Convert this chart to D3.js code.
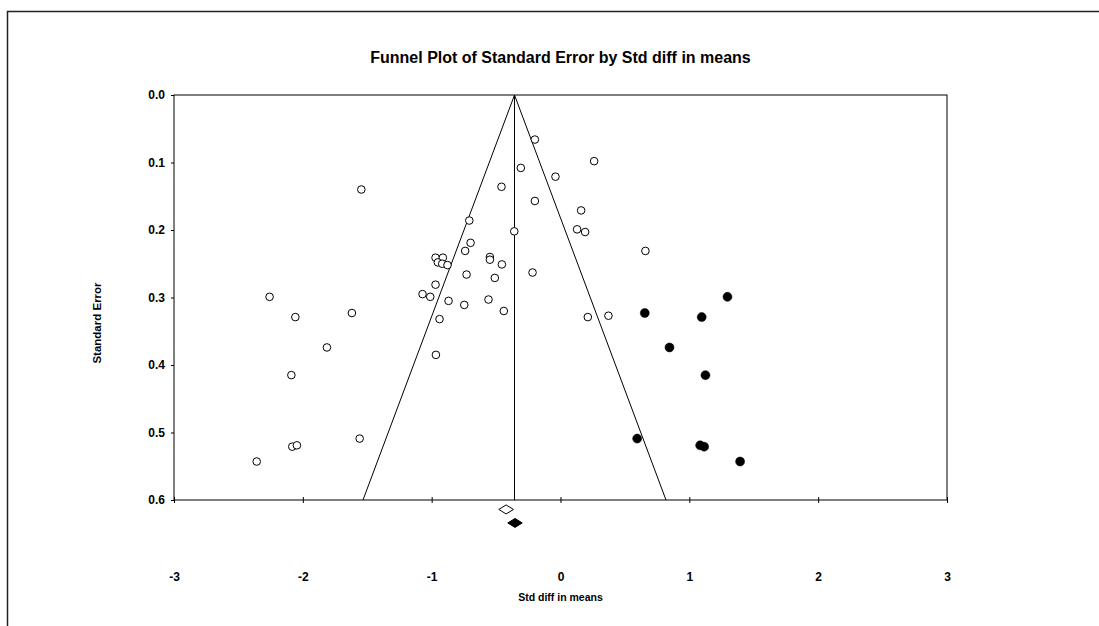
<!DOCTYPE html>
<html>
<head>
<meta charset="utf-8">
<script src="https://cdn.jsdelivr.net/npm/d3@7"></script>
<style>
  html, body { margin: 0; padding: 0; background: #fff; }
  svg { display: block; }
  text { font-family: "Liberation Sans", Arial, sans-serif; font-weight: bold; fill: #000; }
</style>
</head>
<body>
<svg id="chart" width="1099" height="626"></svg>
<script>
// ---- Data ----
const chartTitle = "Funnel Plot of Standard Error by Std diff in means";
const xTitle = "Std diff in means";
const yTitle = "Standard Error";
const xTicks = [-3, -2, -1, 0, 1, 2, 3];
const yTicks = [0.0, 0.1, 0.2, 0.3, 0.4, 0.5, 0.6];

// observed studies: [std diff in means, standard error]
const observedX = [-0.199, 0.261, -0.308, -0.039, -0.458, -0.199, 0.160, -0.708, -0.359, 0.129,
  0.191, -0.698, -0.740, 0.659, -0.970, -0.913, -0.952, -0.918, -0.877, -0.548,
  -0.548, -0.455, -0.217, -0.729, -0.510, -0.970, -1.071, -1.011, -0.869, -0.747,
  -0.559, -0.440, -0.939, -0.967, 0.212, 0.372,
  -1.546, -2.258, -2.058, -1.619, -1.813, -2.089, -1.559, -2.082, -2.046, -2.358];
const observedSE = [0.066, 0.098, 0.108, 0.121, 0.136, 0.157, 0.171, 0.186, 0.202, 0.199,
  0.203, 0.219, 0.231, 0.231, 0.241, 0.241, 0.248, 0.250, 0.252, 0.240,
  0.244, 0.251, 0.263, 0.266, 0.271, 0.281, 0.295, 0.299, 0.305, 0.311,
  0.303, 0.320, 0.332, 0.385, 0.329, 0.327,
  0.140, 0.299, 0.329, 0.323, 0.374, 0.415, 0.509, 0.521, 0.519, 0.543];

// imputed (filled) studies
const imputedX = [0.654, 1.296, 1.096, 0.846, 1.125, 0.595, 1.084, 1.115, 1.394];
const imputedSE = [0.323, 0.299, 0.329, 0.374, 0.415, 0.509, 0.519, 0.521, 0.543];

// summary estimates: [point, lower, upper, row position on SE scale]
const observedSummary = [-0.422, -0.479, -0.365, 0.614];
const adjustedSummary = [-0.353, -0.409, -0.297, 0.634];
const funnelCenter = -0.357;
const zCrit = 1.96;
const seMax = 0.6;

// ---- Layout ----
const svg = d3.select("#chart");
const margin = { left: 174, right: 152, top: 95, bottom: 126 };
const W = 1099, H = 626;
const x = d3.scaleLinear().domain([-3, 3]).range([margin.left, W - margin.right]);
const y = d3.scaleLinear().domain([0, 0.6]).range([margin.top, H - margin.bottom]);

// chart area frame (clipped Excel style)
svg.append("path")
  .attr("d", `M7.5,${H} V11.5 H${W}`)
  .attr("fill", "none").attr("stroke", "#222").attr("stroke-width", 1.5);

// title
svg.append("text").attr("x", x(0)).attr("y", 63).attr("text-anchor", "middle")
  .style("font-size", "16px").text(chartTitle);

// plot box
svg.append("rect")
  .attr("x", x(-3)).attr("y", y(0))
  .attr("width", x(3) - x(-3)).attr("height", y(0.6) - y(0))
  .attr("fill", "none").attr("stroke", "#000").attr("stroke-width", 1);

// x axis
const xAxis = d3.axisBottom(x).tickValues(xTicks).tickSizeInner(3).tickSizeOuter(0).tickFormat(d => String(d));
const gx = svg.append("g").attr("transform", `translate(0,${y(0.6)})`).call(xAxis);
gx.select(".domain").remove();
gx.selectAll(".tick line").attr("y1", -3).attr("y2", 3).attr("stroke", "#000");
gx.selectAll(".tick text").attr("y", 77).attr("dy", "0.32em")
  .style("font-size", "12px").style("font-family", "'Liberation Sans', Arial, sans-serif").style("font-weight", "bold");

// y axis
const yAxis = d3.axisLeft(y).tickValues(yTicks).tickSizeInner(3).tickSizeOuter(0).tickFormat(d3.format(".1f"));
const gy = svg.append("g").attr("transform", `translate(${x(-3)},0)`).call(yAxis);
gy.select(".domain").remove();
gy.selectAll(".tick line").attr("stroke", "#000");
gy.selectAll(".tick text").attr("x", -9)
  .style("font-size", "12px").style("font-family", "'Liberation Sans', Arial, sans-serif").style("font-weight", "bold");

// axis titles
svg.append("text").attr("x", x(0)).attr("y", 601).attr("text-anchor", "middle")
  .style("font-size", "10.5px").text(xTitle);
svg.append("text").attr("transform", `translate(101,323) rotate(-90)`).attr("text-anchor", "middle")
  .style("font-size", "11.5px").text(yTitle);

// funnel
const funnel = [
  [funnelCenter - zCrit * seMax, seMax],
  [funnelCenter, 0],
  [funnelCenter + zCrit * seMax, seMax]
];
svg.append("path")
  .attr("d", d3.line().x(d => x(d[0])).y(d => y(d[1]))(funnel))
  .attr("fill", "none").attr("stroke", "#000").attr("stroke-width", 1);
svg.append("line")
  .attr("x1", x(funnelCenter)).attr("x2", x(funnelCenter))
  .attr("y1", y(0)).attr("y2", y(seMax))
  .attr("stroke", "#000").attr("stroke-width", 1);

// points
svg.append("g").selectAll("circle.obs").data(observedX.map((v, i) => [v, observedSE[i]]))
  .join("circle").attr("class", "obs")
  .attr("cx", d => x(d[0])).attr("cy", d => y(d[1])).attr("r", 3.8)
  .attr("fill", "#fff").attr("stroke", "#000").attr("stroke-width", 1);

svg.append("g").selectAll("circle.imp").data(imputedX.map((v, i) => [v, imputedSE[i]]))
  .join("circle").attr("class", "imp")
  .attr("cx", d => x(d[0])).attr("cy", d => y(d[1])).attr("r", 4.5)
  .attr("fill", "#000").attr("stroke", "#000").attr("stroke-width", 0.5);

// summary diamonds
function diamond(s) {
  const cy = y(s[3]);
  const h = 4.5;
  return `M${x(s[1])},${cy} L${x(s[0])},${cy - h} L${x(s[2])},${cy} L${x(s[0])},${cy + h} Z`;
}
svg.append("path").attr("d", diamond(observedSummary))
  .attr("fill", "#fff").attr("stroke", "#000").attr("stroke-width", 1);
svg.append("path").attr("d", diamond(adjustedSummary))
  .attr("fill", "#000").attr("stroke", "#000").attr("stroke-width", 1);
</script>
</body>
</html>
